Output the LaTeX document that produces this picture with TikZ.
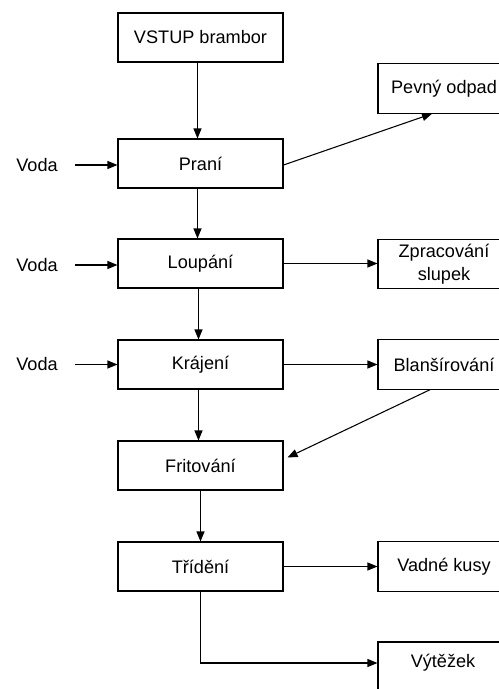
\documentclass[tikz,border=0pt]{standalone}
\usepackage{fontspec}
\setmainfont{Liberation Sans}
\usetikzlibrary{arrows.meta,calc}
\begin{document}
\begin{tikzpicture}[x=0.75pt,y=-0.75pt,
  every node/.style={font=\fontsize{13.6}{17}\selectfont, inner sep=0pt},
  mainbox/.style={draw, line width=0.8pt, minimum width=123.75pt, minimum height=36.75pt, align=center},
  sidebox/.style={draw, line width=0.8pt, minimum width=99pt, minimum height=37pt, align=center},
  flow/.style={line width=0.8pt, -{Triangle[length=7.5pt,width=6pt]}}
]
\useasboundingbox (0,0) rectangle (499,689);
\clip (0,0) rectangle (499,689);
% main column
\node[mainbox] (vstup) at (200.5,37.5) {VSTUP brambor};
\node[mainbox] (prani) at (200.5,163.5) {Praní};
\node[mainbox] (loupani) at (200.5,263.5) {Loupání};
\node[mainbox] (krajeni) at (200.5,364.5) {Krájení};
\node[mainbox] (frit) at (200.5,465.5) {Fritování};
\node[mainbox] (trideni) at (200.5,566.5) {Třídění};
% right column
\node[sidebox] (pevny) at (444,88.5) {Pevný odpad};
\node[sidebox, font=\fontsize{13.6}{17.25}\selectfont] (zprac) at (444,264) {Zpracování\\slupek};
\node[sidebox] (blans) at (444,364.5) {Blanšírování};
\node[sidebox] (vadne) at (444,566.5) {Vadné kusy};
\node[sidebox, minimum height=60pt] (vytezek) at (444,682) {\raisebox{0pt}{}};
\node (vytxt) at (443,663) {Výtěžek};
% water inputs
\node (v1) at (37,165) {Voda};
\node (v2) at (37,265) {Voda};
\node (v3) at (37,364.5) {Voda};
\coordinate (w1) at (75,165);
\coordinate (w2) at (75,265);
\coordinate (w3) at (75,364.5);
\draw[flow] (w1) -- (w1 -| prani.west);
\draw[flow] (w2) -- (w2 -| loupani.west);
\draw[flow] (w3) -- (w3 -| krajeni.west);
% vertical flow
\draw[flow] ($(vstup.south)+(-3,0)$) -- ($(prani.north)+(-3,0)$);
\draw[flow] ($(prani.south)+(-3,0)$) -- ($(loupani.north)+(-3,0)$);
\draw[flow] ($(loupani.south)+(-2,0)$) -- ($(krajeni.north)+(-2,0)$);
\draw[flow] ($(krajeni.south)+(-2,0)$) -- ($(frit.north)+(-2,0)$);
\draw[flow] ($(frit.south)+(0,0)$) -- ($(trideni.north)+(0,0)$);
% side flows
\draw[flow] ($(prani.east)+(0,1.5)$) -- ($(pevny.south)+(-12,0)$);
\draw[flow] (loupani.east) -- (loupani.east -| zprac.west);
\draw[flow] (krajeni.east) -- (blans.west);
\draw[flow] ($(blans.south)+(-14,0)$) -- ($(frit.east)+(4,-8)$);
\draw[flow] (trideni.east) -- (vadne.west);
\draw[flow] (trideni.south) |- (vytxt -| vytezek.west);
\end{tikzpicture}
\end{document}
